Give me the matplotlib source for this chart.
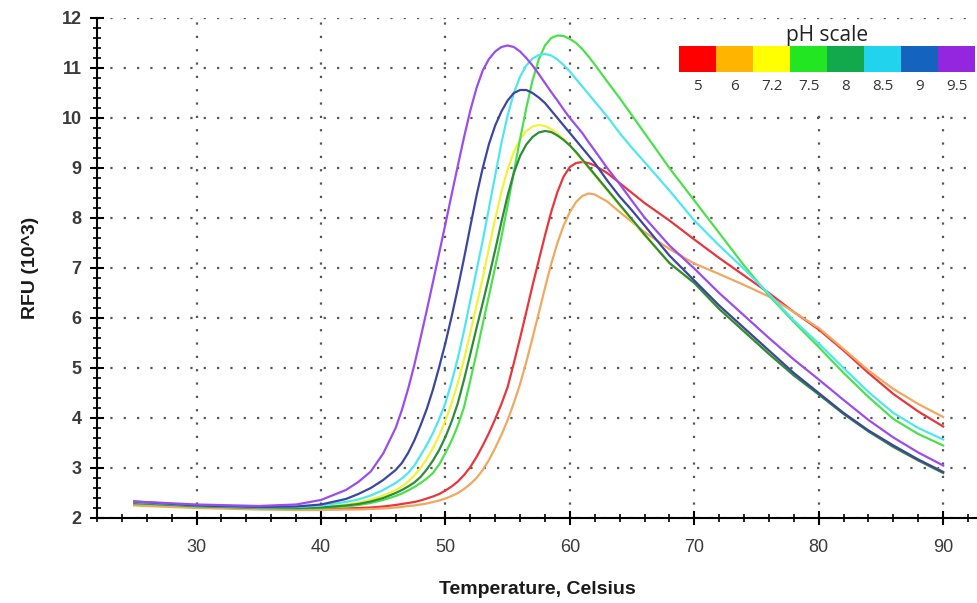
import numpy as np
import matplotlib.pyplot as plt
from matplotlib.ticker import MultipleLocator

# --- Data (RFU in 10^3) ---
temperature = [25, 30, 35, 38, 40, 42, 43, 44, 45,
               46, 46.5, 47, 47.5, 48, 48.5, 49, 49.5, 50, 50.5, 51, 51.5, 52, 52.5, 53, 53.5,
               54, 54.5, 55, 55.5, 56, 56.5, 57, 57.5, 58, 58.5, 59, 59.5, 60, 60.5, 61, 61.5, 62,
               63, 64, 65, 66, 68, 70, 72, 74, 76, 78, 80, 82, 84, 86, 88, 90]

rfu_ph5 = [2.27, 2.22, 2.19, 2.18, 2.18, 2.19, 2.20, 2.21, 2.23,
           2.26, 2.28, 2.30, 2.32, 2.35, 2.39, 2.43, 2.48, 2.55, 2.63, 2.73, 2.86, 3.02, 3.22, 3.45, 3.70,
           3.98, 4.28, 4.62, 5.10, 5.60, 6.12, 6.65, 7.15, 7.65, 8.12, 8.52, 8.83, 9.02, 9.10, 9.12, 9.10, 9.05,
           8.90, 8.70, 8.50, 8.30, 7.95, 7.57, 7.20, 6.85, 6.50, 6.12, 5.77, 5.35, 4.90, 4.48, 4.13, 3.83]
rfu_ph6 = [2.25, 2.20, 2.17, 2.16, 2.16, 2.17, 2.17, 2.18, 2.19,
           2.21, 2.22, 2.24, 2.25, 2.27, 2.29, 2.32, 2.35, 2.39, 2.44, 2.50, 2.58, 2.68, 2.80, 2.96, 3.16,
           3.40, 3.66, 3.96, 4.30, 4.68, 5.12, 5.60, 6.10, 6.60, 7.08, 7.50, 7.85, 8.12, 8.32, 8.44, 8.49, 8.47,
           8.33, 8.12, 7.92, 7.72, 7.38, 7.09, 6.88, 6.66, 6.43, 6.12, 5.80, 5.38, 4.95, 4.58, 4.28, 4.02]
rfu_ph72 = [2.30, 2.24, 2.20, 2.20, 2.22, 2.27, 2.31, 2.37, 2.45,
            2.56, 2.63, 2.73, 2.85, 3.00, 3.18, 3.40, 3.65, 3.95, 4.30, 4.70, 5.18, 5.70, 6.25, 6.80, 7.40,
            7.98, 8.52, 8.97, 9.32, 9.57, 9.74, 9.83, 9.86, 9.84, 9.78, 9.69, 9.58, 9.45, 9.30, 9.15, 9.00, 8.85,
            8.55, 8.25, 7.95, 7.65, 7.10, 6.70, 6.20, 5.75, 5.30, 4.87, 4.48, 4.10, 3.75, 3.45, 3.17, 2.93]
rfu_ph75 = [2.30, 2.23, 2.20, 2.19, 2.20, 2.23, 2.26, 2.30, 2.36,
            2.44, 2.49, 2.55, 2.62, 2.70, 2.79, 2.90, 3.07, 3.30, 3.55, 3.85, 4.22, 4.75, 5.30, 5.88, 6.45,
            7.02, 7.62, 8.25, 8.92, 9.58, 10.20, 10.75, 11.17, 11.45, 11.60, 11.65, 11.64, 11.58, 11.50, 11.38, 11.23, 11.07,
            10.73, 10.40, 10.05, 9.70, 9.00, 8.35, 7.70, 7.05, 6.45, 5.92, 5.42, 4.90, 4.42, 3.98, 3.68, 3.45]
rfu_ph8 = [2.30, 2.24, 2.20, 2.20, 2.21, 2.25, 2.28, 2.33, 2.40,
           2.50, 2.56, 2.63, 2.71, 2.82, 2.97, 3.15, 3.36, 3.62, 3.93, 4.30, 4.77, 5.28, 5.80, 6.30, 6.82,
           7.36, 7.92, 8.45, 8.90, 9.24, 9.47, 9.62, 9.71, 9.74, 9.72, 9.65, 9.56, 9.45, 9.32, 9.17, 9.02, 8.87,
           8.57, 8.27, 7.97, 7.67, 7.10, 6.70, 6.18, 5.73, 5.28, 4.85, 4.47, 4.08, 3.73, 3.42, 3.15, 2.90]
rfu_ph85 = [2.32, 2.25, 2.21, 2.22, 2.25, 2.32, 2.37, 2.45, 2.56,
            2.70, 2.79, 2.90, 3.05, 3.25, 3.46, 3.70, 3.98, 4.30, 4.72, 5.20, 5.75, 6.35, 6.95, 7.55, 8.20,
            8.85, 9.50, 10.05, 10.50, 10.83, 11.05, 11.19, 11.26, 11.28, 11.25, 11.17, 11.06, 10.93, 10.78, 10.63, 10.48, 10.33,
            10.03, 9.70, 9.40, 9.12, 8.55, 7.95, 7.45, 6.98, 6.48, 5.95, 5.49, 5.00, 4.52, 4.10, 3.80, 3.57]
rfu_ph9 = [2.33, 2.25, 2.22, 2.23, 2.27, 2.38, 2.48, 2.60, 2.76,
           2.96, 3.10, 3.30, 3.55, 3.85, 4.18, 4.57, 5.02, 5.50, 6.03, 6.60, 7.20, 7.83, 8.45, 9.00, 9.48,
           9.85, 10.13, 10.35, 10.50, 10.56, 10.56, 10.50, 10.41, 10.30, 10.15, 10.00, 9.85, 9.70, 9.55, 9.40, 9.25, 9.10,
           8.75, 8.43, 8.15, 7.85, 7.25, 6.75, 6.25, 5.80, 5.35, 4.90, 4.50, 4.10, 3.75, 3.45, 3.17, 2.92]
rfu_ph95 = [2.33, 2.27, 2.24, 2.27, 2.36, 2.56, 2.72, 2.93, 3.29,
            3.80, 4.16, 4.58, 5.06, 5.60, 6.15, 6.72, 7.30, 7.88, 8.47, 9.05, 9.62, 10.15, 10.60, 10.95, 11.18,
            11.33, 11.42, 11.45, 11.42, 11.33, 11.20, 11.05, 10.88, 10.70, 10.52, 10.35, 10.17, 10.00, 9.85, 9.70, 9.52, 9.35,
            9.00, 8.68, 8.34, 8.01, 7.45, 6.99, 6.50, 6.05, 5.60, 5.17, 4.77, 4.36, 3.96, 3.61, 3.31, 3.05]

ph_labels = ["5", "6", "7.2", "7.5", "8", "8.5", "9", "9.5"]
series = [rfu_ph5, rfu_ph6, rfu_ph72, rfu_ph75, rfu_ph8, rfu_ph85, rfu_ph9, rfu_ph95]
line_colors = ["#E8363C", "#F0A860", "#F2F23A", "#4CE04C", "#2E8B3A", "#4FE6F2", "#3C46A0", "#9B4DEB"]
scale_colors = ["#FF0000", "#FFB400", "#FFFF00", "#22E622", "#12A84C", "#22D3EE", "#1363BF", "#9526E0"]

# --- Figure ---
fig = plt.figure(figsize=(9.78, 6.03), dpi=100)
ax = fig.add_axes([97 / 978, 85 / 603, 881 / 978, 500 / 603])

for vals, col in zip(series, line_colors):
    ax.plot(temperature, vals, color=col, linewidth=1.6, zorder=3)

ax.set_xlim(22, 92.8)
ax.set_ylim(2, 12)
ax.xaxis.set_major_locator(MultipleLocator(10))
ax.xaxis.set_minor_locator(MultipleLocator(2))
ax.yaxis.set_major_locator(MultipleLocator(1))
ax.yaxis.set_minor_locator(MultipleLocator(0.2))

# Grid and spines
ax.set_axisbelow(True)
ax.grid(True, which='major', color='#555555', linestyle=(0, (1, 5)), linewidth=1.6)
for side in ['top', 'right']:
    ax.spines[side].set_visible(False)
for side in ['left', 'bottom']:
    ax.spines[side].set_linewidth(1.5)
    ax.spines[side].set_color('black')

ax.tick_params(which='major', direction='inout', length=10, width=1.5, color='black')
ax.tick_params(which='minor', direction='inout', length=6, width=1.2, color='black')
ax.tick_params(axis='x', which='major', pad=10, labelsize=13, labelcolor='#3a3a3a')
ax.tick_params(axis='y', which='major', pad=6, labelsize=13, labelcolor='#3a3a3a')
for lab in ax.get_yticklabels():
    lab.set_fontweight('bold')
for lab in ax.get_xticklabels() + ax.get_yticklabels():
    lab.set_family('Liberation Sans')

ax.set_xlabel("Temperature, Celsius", fontsize=14, fontweight='bold', family='Liberation Sans',
              color='#1a1a1a', labelpad=18)
ax.set_ylabel("RFU (10^3)", fontsize=14, fontweight='bold', family='Liberation Sans',
              color='#1a1a1a', labelpad=16)

# --- pH scale legend (white panel with coloured cells) ---
lax = fig.add_axes([662 / 978, 1 - 108 / 603, 316 / 978, 86 / 603])
lax.set_xlim(-0.96, 7.58)
lax.set_ylim(-1.34, 1.89)
lax.axis('off')
lax.add_patch(plt.Rectangle((-0.96, -1.34), 8.54, 3.23, color='white', zorder=0))
lax.bar(np.arange(len(ph_labels)), 1, width=1, bottom=0, color=scale_colors, zorder=2)
for i, lab in enumerate(ph_labels):
    lax.text(i, -0.54, lab, ha='center', va='center', fontsize=11, family='Open Sans', color='#333333')
lax.text(3.5, 1.40, "pH scale", ha='center', va='center', fontsize=15, family='Open Sans', color='#222222')

plt.savefig("out.png", dpi=100)
